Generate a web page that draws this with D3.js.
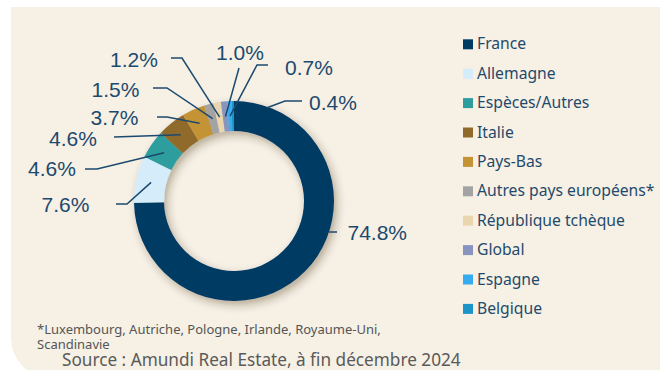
<!DOCTYPE html>
<html>
<head>
<meta charset="utf-8">
<script src="https://cdn.jsdelivr.net/npm/d3@7"></script>
<style>
  html, body { margin: 0; padding: 0; background: #ffffff; }
  svg { display: block; }
</style>
</head>
<body>
<svg id="chart" width="660" height="370"></svg>
<script>
// Répartition géographique du patrimoine (en % de la valeur)
const categories = [
  "France", "Allemagne", "Espèces/Autres", "Italie", "Pays-Bas",
  "Autres pays européens*", "République tchèque", "Global", "Espagne", "Belgique"
];
const values = [74.8, 7.6, 4.6, 4.6, 3.7, 1.5, 1.2, 1.0, 0.7, 0.4];
const colors = [
  "#003b64", "#d5ecfa", "#2e9d9d", "#8f6a2b", "#c49334",
  "#a3a3a3", "#e9d6af", "#8794be", "#35abf0", "#1b95c9"
];
const footnoteLines = [
  "*Luxembourg, Autriche, Pologne, Irlande, Royaume-Uni,",
  "Scandinavie"
];
const sourceText = "Source : Amundi Real Estate, à fin décembre 2024";

// Label placement: text start, baseline and leader-line polyline
// (the last leader point is attached to the slice).
const labelLayout = [
  { x: 347.5, y: 240,   pts: [[337, 232]], tip: { angle: 108, r: 100 } },
  { x: 41.5,  y: 211.5, pts: [[116, 204], [127, 204]] },
  { x: 28,    y: 176,   pts: [[85, 169], [97, 169]] },
  { x: 49,    y: 145.5, pts: [[114, 137]] },
  { x: 90.5,  y: 125,   pts: [[157, 117], [167, 117]] },
  { x: 91.5,  y: 97,    pts: [[153, 88], [167, 88]] },
  { x: 110,   y: 67,    pts: [[171, 58], [182, 58]] },
  { x: 216,   y: 60,    pts: [[239, 68]] },
  { x: 285,   y: 75,    pts: [[268, 65], [257, 65]] },
  { x: 309,   y: 110,   pts: [[302, 101], [285, 101]], tip: { angle: 19.5, r: 99 } }
];

const svg = d3.select("#chart");
const W = 660, H = 370;

// Panel background, square top-left corner, rounded bottom-left corner
const px = 11, py = 7, pr = 40, pb = 378;
svg.append("path")
  .attr("d", `M${px},${py} H${W + 10} V${pb} H${px + pr} A${pr},${pr} 0 0 1 ${px},${pb - pr} Z`)
  .attr("fill", "#f6f0e5");

// Drop shadow for the ring
const defs = svg.append("defs");
const f = defs.append("filter").attr("id", "ringShadow")
  .attr("x", "-20%").attr("y", "-20%").attr("width", "140%").attr("height", "140%");
f.append("feDropShadow")
  .attr("dx", 3).attr("dy", 4).attr("stdDeviation", 4)
  .attr("flood-color", "#3a2a10").attr("flood-opacity", 0.35);

const cx = 234, cy = 201, rOuter = 100, rInner = 70;
const rMid = (rOuter + rInner) / 2;

const color = d3.scaleOrdinal().domain(categories).range(colors);
const data = categories.map((c, i) => ({ name: c, value: values[i], idx: i }));

const pie = d3.pie().value(d => d.value).sort(null);
const arcs = pie(data);
const arc = d3.arc().innerRadius(rInner).outerRadius(rOuter);

const g = svg.append("g").attr("transform", `translate(${cx},${cy})`);
g.append("g").attr("filter", "url(#ringShadow)")
  .selectAll("path")
  .data(arcs)
  .join("path")
  .attr("d", arc)
  .attr("fill", d => color(d.data.name));

// Leader lines and value labels
const labelColor = "#1c4a6e";
const polar = (deg, r) => {
  const a = deg * Math.PI / 180;
  return [cx + r * Math.sin(a), cy - r * Math.cos(a)];
};
const line = d3.line();

arcs.forEach((a, i) => {
  const lay = labelLayout[i];
  const midDeg = ((a.startAngle + a.endAngle) / 2) * 180 / Math.PI;
  const tip = lay.tip ? polar(lay.tip.angle, lay.tip.r) : polar(midDeg, rMid);
  svg.append("path")
    .attr("d", line([...lay.pts, tip]))
    .attr("fill", "none")
    .attr("stroke", labelColor)
    .attr("stroke-width", 1.5);
  svg.append("text")
    .attr("x", lay.x)
    .attr("y", lay.y)
    .attr("font-family", "'Liberation Sans', Arial, sans-serif")
    .attr("font-size", 21)
    .attr("fill", labelColor)
    .text(d3.format(".1f")(a.data.value) + "%");
});

// Legend
const legendX = 463, legendY0 = 49.3, legendStep = 29.4;
const legend = svg.append("g");
categories.forEach((c, i) => {
  const y = legendY0 + i * legendStep;
  legend.append("rect")
    .attr("x", legendX).attr("y", y - 10)
    .attr("width", 10).attr("height", 10)
    .attr("fill", color(c));
  legend.append("text")
    .attr("x", legendX + 14).attr("y", y)
    .attr("font-family", "'Noto Sans', sans-serif")
    .attr("font-size", 15.7)
    .attr("fill", "#1f4a6c")
    .text(c);
});

// Footnote and source
footnoteLines.forEach((t, i) => {
  svg.append("text")
    .attr("x", 37).attr("y", 334 + i * 15)
    .attr("font-family", "'Noto Sans', sans-serif")
    .attr("font-size", 13)
    .attr("fill", "#555555")
    .text(t);
});
svg.append("text")
  .attr("x", 62).attr("y", 365.5)
  .attr("font-family", "'Noto Sans', sans-serif")
  .attr("font-size", 17.2)
  .attr("fill", "#5a5a5a")
  .text(sourceText);
</script>
</body>
</html>
